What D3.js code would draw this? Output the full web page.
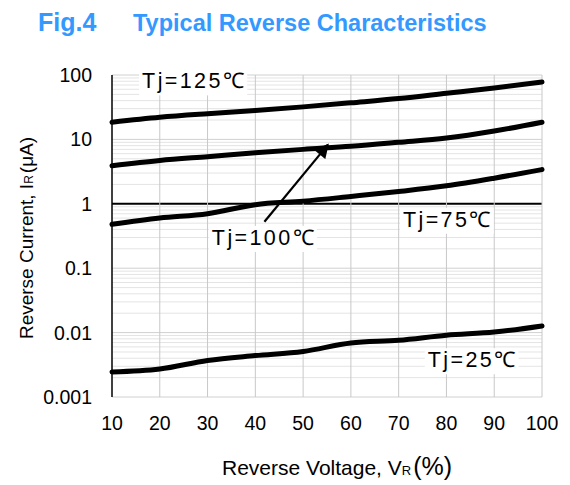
<!DOCTYPE html>
<html>
<head>
<meta charset="utf-8">
<script src="https://cdn.jsdelivr.net/npm/d3@7"></script>
<style>
  body { margin: 0; background: #fff; }
  text { font-family: "Liberation Sans", Arial, sans-serif; fill: #000; }
</style>
</head>
<body>
<svg id="chart"></svg>
<script>
// reverse voltage (% of rated)
const voltage = [10, 20, 30, 40, 50, 60, 70, 80, 90, 100];

// reverse current (uA) per junction temperature
const ir25 = [0.00245, 0.00272, 0.0037, 0.0044, 0.0051, 0.0069, 0.0076, 0.0091, 0.0102, 0.0127];
const ir75 = [0.48, 0.6, 0.7, 0.97, 1.1, 1.3, 1.55, 1.9, 2.5, 3.4];
const ir100 = [3.9, 4.7, 5.4, 6.2, 7.0, 7.8, 9.0, 10.5, 13.5, 18.5];
const ir125 = [18.5, 22, 25, 28, 32, 37, 43, 52, 63, 78];

const xTicks = [10, 20, 30, 40, 50, 60, 70, 80, 90, 100];
const yTicks = [0.001, 0.01, 0.1, 1, 10, 100];
const yTickLabels = ['0.001', '0.01', '0.1', '1', '10', '100'];

const W = 570, H = 485;
const margin = { top: 75, right: 28, bottom: 88, left: 112 };
const width = W - margin.left - margin.right;
const height = H - margin.top - margin.bottom;

const svg = d3.select('#chart').attr('width', W).attr('height', H);

const x = d3.scaleLinear().domain([10, 100]).range([0, width]);
const y = d3.scaleLog().domain([0.001, 100]).range([height, 0]);

// title, two pieces with the wide gap between them
svg.append('text')
  .attr('x', 38).attr('y', 31)
  .style('font-size', '25px').style('font-weight', 'bold').style('fill', '#3399ff')
  .text('Fig.4');
svg.append('text')
  .attr('x', 133).attr('y', 31)
  .style('font-size', '23.5px').style('font-weight', 'bold').style('fill', '#3399ff')
  .text('Typical Reverse Characteristics');

const g = svg.append('g').attr('transform', `translate(${margin.left},${margin.top})`);

// minor horizontal grid (log)
const minor = [];
for (let e = -3; e < 2; e++) {
  for (let m = 2; m <= 9; m++) minor.push(m * Math.pow(10, e));
}
g.append('g').selectAll('line').data(minor).join('line')
  .attr('x1', 0).attr('x2', width)
  .attr('y1', d => y(d)).attr('y2', d => y(d))
  .attr('stroke', '#e4e4e4').attr('stroke-width', 1);

// major horizontal grid
g.append('g').selectAll('line').data(yTicks).join('line')
  .attr('x1', 0).attr('x2', width)
  .attr('y1', d => y(d)).attr('y2', d => y(d))
  .attr('stroke', d => d === 1 ? '#000' : '#d0d0d0')
  .attr('stroke-width', d => d === 1 ? 2 : 1);

// vertical grid
g.append('g').selectAll('line').data(xTicks.slice(1)).join('line')
  .attr('x1', d => x(d)).attr('x2', d => x(d))
  .attr('y1', 0).attr('y2', height)
  .attr('stroke', '#c8c8c8').attr('stroke-width', 1);

// left axis line
g.append('line')
  .attr('x1', 0).attr('x2', 0).attr('y1', 0).attr('y2', height)
  .attr('stroke', '#000').attr('stroke-width', 1.5);

// tick labels
g.append('g').selectAll('text').data(yTicks).join('text')
  .attr('x', -20).attr('y', d => y(d)).attr('dy', '0.36em')
  .attr('text-anchor', 'end').style('font-size', '19.5px')
  .text((d, i) => yTickLabels[i]);

g.append('g').selectAll('text').data(xTicks).join('text')
  .attr('x', d => x(d)).attr('y', height + 33)
  .attr('text-anchor', 'middle').style('font-size', '19.5px')
  .text(d => d);

// curves
const line = d3.line()
  .x((d, i) => x(voltage[i]))
  .y(d => y(d))
  .curve(d3.curveMonotoneX);

[ir25, ir75, ir100, ir125].forEach(s => {
  g.append('path')
    .attr('d', line(s))
    .attr('fill', 'none').attr('stroke', '#000')
    .attr('stroke-width', 5).attr('stroke-linecap', 'round');
});

// arrow toward the 100 C curve
svg.append('defs').append('marker')
  .attr('id', 'arrow').attr('viewBox', '0 0 10 10')
  .attr('refX', 9).attr('refY', 5)
  .attr('markerWidth', 7).attr('markerHeight', 6.5)
  .attr('markerUnits', 'strokeWidth')
  .attr('orient', 'auto')
  .append('path').attr('d', 'M0,0 L10,5 L0,10 z').attr('fill', '#000');

g.append('line')
  .attr('x1', x(41.9)).attr('y1', y(0.525))
  .attr('x2', x(55.2)).attr('y2', y(8.3))
  .attr('stroke', '#000').attr('stroke-width', 2.2)
  .attr('marker-end', 'url(#arrow)');

// temperature labels with white boxes
const labels = [
  { t: 'Tj=125℃', v: 16.3, i: 62 },
  { t: 'Tj=100℃', v: 30.9, i: 0.23 },
  { t: 'Tj=75℃', v: 70.9, i: 0.44 },
  { t: 'Tj=25℃', v: 76.1, i: 0.0029 },
];
labels.forEach(l => {
  const lg = g.append('g');
  const txt = lg.append('text')
    .attr('x', x(l.v)).attr('y', y(l.i))
    .style('font-size', '21.5px').style('letter-spacing', '2.4px')
    .text(l.t);
  const bb = txt.node().getBBox();
  lg.insert('rect', 'text')
    .attr('x', bb.x - 3).attr('y', bb.y)
    .attr('width', bb.width + 4).attr('height', bb.height + 2)
    .attr('fill', '#fff');
});

// axis titles
const xt = svg.append('text')
  .attr('x', 222).attr('y', 475)
  .style('font-size', '21px');
xt.append('tspan').text('Reverse Voltage, V');
xt.append('tspan').style('font-size', '13px').text('R');
xt.append('tspan').style('font-size', '25px').attr('dx', 2).text('(%)');

const yt = svg.append('text')
  .attr('transform', 'translate(33,238) rotate(-90)')
  .attr('text-anchor', 'middle')
  .style('font-size', '19px');
yt.append('tspan').text('Reverse Current, I');
yt.append('tspan').style('font-size', '12px').text('R');
yt.append('tspan').attr('dx', 2).text('(μA)');
</script>
</body>
</html>
